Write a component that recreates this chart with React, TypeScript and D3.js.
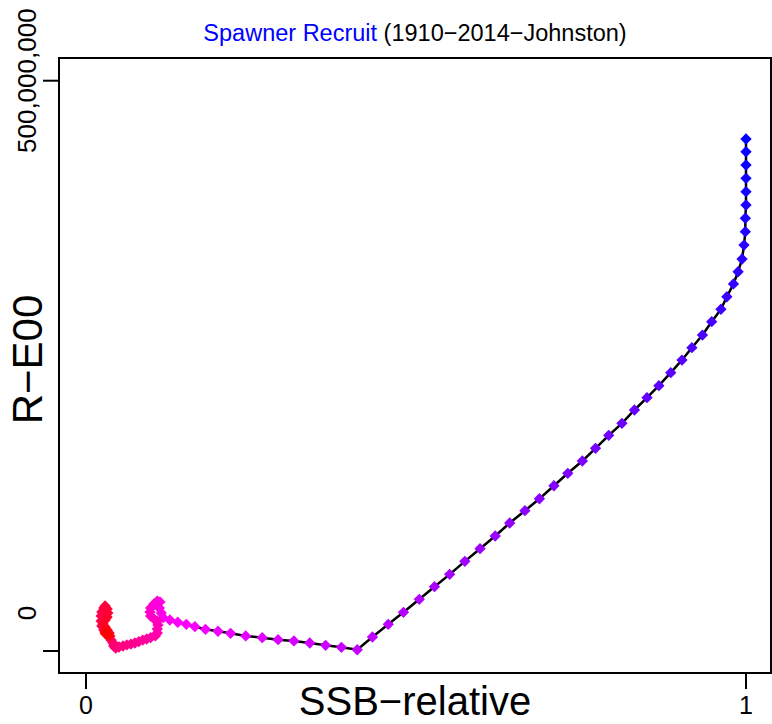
import React, { useEffect, useRef } from 'react';
import * as d3 from 'd3';

// SSB relative to unfished, 1910..2014
const ssb = [
  1.0, 1.0, 1.0, 1.0, 1.0, 1.0, 0.999, 0.999, 0.997, 0.994,
  0.988, 0.981, 0.971, 0.962, 0.948, 0.934, 0.918, 0.903, 0.886, 0.868,
  0.85, 0.831, 0.812, 0.792, 0.772, 0.752, 0.73, 0.709, 0.687, 0.665,
  0.642, 0.62, 0.597, 0.574, 0.551, 0.528, 0.505, 0.481, 0.458, 0.434,
  0.411, 0.387, 0.363, 0.339, 0.315, 0.291, 0.267, 0.242, 0.219, 0.2,
  0.181, 0.165, 0.152, 0.139, 0.127, 0.117, 0.114, 0.111, 0.112, 0.108,
  0.103, 0.098, 0.097, 0.098, 0.103, 0.108, 0.109, 0.108, 0.108, 0.105,
  0.098, 0.092, 0.086, 0.08, 0.074, 0.068, 0.062, 0.056, 0.05, 0.045,
  0.042, 0.041, 0.038, 0.035, 0.03, 0.027, 0.024, 0.023, 0.023, 0.024,
  0.027, 0.029, 0.032, 0.033, 0.032, 0.029, 0.026, 0.029, 0.032, 0.035,
  0.036, 0.033, 0.03, 0.029, 0.03,
];

// recruits (millions)
const recruits = [
  448.9, 437.7, 426.1, 414.4, 402.7, 391.0, 379.4, 367.6, 355.9, 343.7,
  332.5, 321.8, 310.6, 299.6, 288.7, 277.0, 265.9, 255.1, 244.0, 232.6,
  222.1, 211.3, 199.6, 189.1, 177.7, 166.6, 155.8, 144.9, 133.5, 123.0,
  112.2, 100.8, 89.7, 78.6, 67.2, 56.4, 45.3, 33.9, 23.4, 12.3,
  1.1, 3.2, 5.0, 7.0, 8.8, 9.9, 11.7, 13.2, 15.5, 17.3,
  19.0, 21.3, 23.4, 25.2, 27.2, 29.2, 33.3, 37.7, 43.0, 43.8,
  41.2, 37.7, 34.2, 30.7, 28.1, 26.3, 22.8, 19.3, 15.8, 13.2,
  11.8, 10.5, 9.6, 8.3, 7.0, 6.1, 5.3, 4.4, 3.5, 2.6,
  4.4, 7.0, 9.6, 12.3, 14.9, 18.4, 21.9, 26.3, 30.7, 34.2,
  37.7, 39.5, 36.8, 33.3, 29.8, 27.2, 23.7, 21.0, 18.4, 15.8,
  13.2, 14.0, 15.8, 16.5, 15.2,
];

const xTicks = [0, 1];
const xTickLabels = ['0', '1'];
const yTicks = [0, 500000000];
const yTickLabels = ['0', '500,000,000'];

const W = 772;
const H = 724;
const FONT = '"Liberation Sans", Arial, sans-serif';

const App = () => {
  const ref = useRef<SVGSVGElement>(null);

  useEffect(() => {
    const svg = d3.select(ref.current);
    svg.selectAll('*').remove();

    const box = { left: 59, right: 771, top: 58, bottom: 673 };
    const x = d3.scaleLinear().domain([0, 1]).range([86, 746]);
    const y = d3.scaleLinear().domain([0, 500000000]).range([651, 80.7]);

    const pts = ssb.map((s, i) => ({ x: s, y: recruits[i] * 1e6, i }));
    const n = pts.length;
    const col = (i: number) => {
      const t = i / (n - 1);
      return t < 0.5
        ? d3.interpolateRgb('#0000ff', '#ff00ff')(t * 2)
        : d3.interpolateRgb('#ff00ff', '#ff0000')((t - 0.5) * 2);
    };

    // box
    svg
      .append('rect')
      .attr('x', box.left)
      .attr('y', box.top)
      .attr('width', box.right - box.left)
      .attr('height', box.bottom - box.top)
      .attr('fill', 'none')
      .attr('stroke', 'black')
      .attr('stroke-width', 2);

    // x axis ticks
    const gx = svg.append('g');
    xTicks.forEach((t, i) => {
      gx.append('line')
        .attr('x1', x(t)).attr('x2', x(t))
        .attr('y1', box.bottom).attr('y2', box.bottom + 16)
        .attr('stroke', 'black').attr('stroke-width', 2);
      gx.append('text')
        .attr('x', x(t))
        .attr('y', box.bottom + 41)
        .attr('text-anchor', 'middle')
        .attr('font-family', FONT)
        .attr('font-size', 25)
        .text(xTickLabels[i]);
    });

    // y axis ticks
    const gy = svg.append('g');
    yTicks.forEach((t, i) => {
      gy.append('line')
        .attr('x1', box.left - 16).attr('x2', box.left)
        .attr('y1', y(t)).attr('y2', y(t))
        .attr('stroke', 'black').attr('stroke-width', 2);
      const ly = t === 0 ? y(t) - 38 : y(t);
      gy.append('text')
        .attr('transform', `translate(36,${ly}) rotate(-90)`)
        .attr('text-anchor', 'middle')
        .attr('font-family', FONT)
        .attr('font-size', 26)
        .text(yTickLabels[i]);
    });

    // axis titles
    svg
      .append('text')
      .attr('x', (box.left + box.right) / 2)
      .attr('y', 715)
      .attr('text-anchor', 'middle')
      .attr('font-family', FONT)
      .attr('font-size', 40)
      .text('SSB\u2212relative');

    svg
      .append('text')
      .attr('transform', `translate(42,${(box.top + box.bottom) / 2 - 6}) rotate(-90)`)
      .attr('text-anchor', 'middle')
      .attr('font-family', FONT)
      .attr('font-size', 42)
      .text('R\u2212E00');

    // title
    const title = svg
      .append('text')
      .attr('x', (box.left + box.right) / 2)
      .attr('y', 41)
      .attr('text-anchor', 'middle')
      .attr('font-family', FONT)
      .attr('font-size', 23.5);
    title.append('tspan').attr('fill', '#0000ff').text('Spawner Recruit');
    title.append('tspan').attr('fill', 'black').text(' (1910\u22122014\u2212Johnston)');

    // path
    const line = d3
      .line<{ x: number; y: number }>()
      .x((d) => x(d.x))
      .y((d) => y(d.y));
    svg
      .append('path')
      .attr('d', line(pts))
      .attr('fill', 'none')
      .attr('stroke', 'black')
      .attr('stroke-width', 2.5);

    // points
    const sym = d3.symbol(d3.symbolSquare, 64);
    svg
      .append('g')
      .selectAll('path')
      .data(pts)
      .join('path')
      .attr('d', sym)
      .attr('transform', (d) => `translate(${x(d.x)},${y(d.y)}) rotate(45)`)
      .attr('fill', (d) => col(d.i));
  }, []);

  return (
    <svg
      ref={ref}
      width={W}
      height={H}
      style={{ position: 'absolute', left: 0, top: 0, background: 'white' }}
    />
  );
};

export default App;
